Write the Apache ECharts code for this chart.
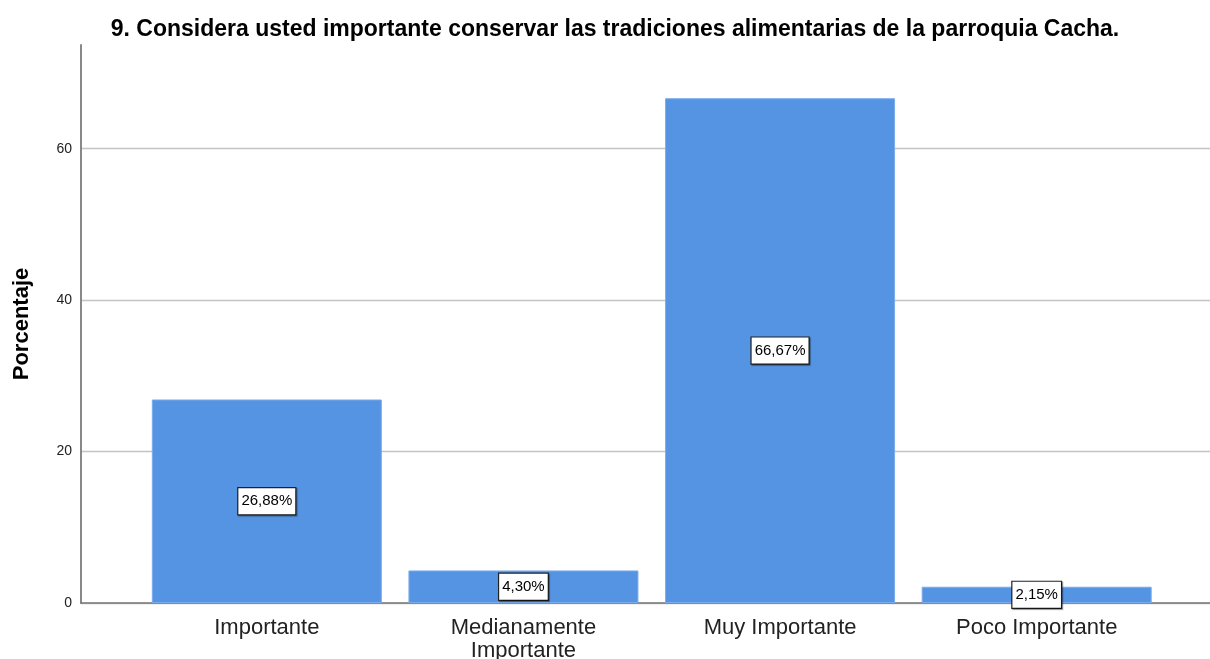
<!DOCTYPE html>
<html><head><meta charset="utf-8">
<script src="https://cdn.jsdelivr.net/npm/echarts@6/dist/echarts.min.js"></script>
<style>html,body{margin:0;padding:0;background:#fff}#c{width:1210px;height:659px}</style>
</head><body><div id="c"></div>
<script>
const categories = ['Importante', 'Medianamente\nImportante', 'Muy Importante', 'Poco Importante'];
const percentages = [26.88, 4.30, 66.67, 2.15];
const yTicks = [0, 20, 40, 60];
const titleText = '9. Considera usted importante conservar las tradiciones alimentarias de la parroquia Cacha.';
const yName = 'Porcentaje';

const FONT = '"Liberation Sans", Arial, sans-serif';
const YMAX = 73.7;
const GRID = '#c4c4c4';
const chart = echarts.init(document.getElementById('c'), null, {renderer: 'canvas'});
chart.setOption({
  animation: false,
  title: {
    text: titleText, left: 610, top: 13, textAlign: 'center',
    textStyle: {fontFamily: FONT, fontSize: 23, fontWeight: 'bold', color: '#000'}
  },
  grid: [
    {left: 81, right: 0, top: 45, bottom: 56, outerBoundsMode: 'none', containLabel: false},
    {left: 138.5, right: 45, top: 45, bottom: 56, outerBoundsMode: 'none', containLabel: false}
  ],
  xAxis: [
    {gridIndex: 0, type: 'value', min: 0, max: 1, show: true,
     axisLine: {show: true, lineStyle: {color: '#777', width: 1.5}},
     axisTick: {show: false}, axisLabel: {show: false}, splitLine: {show: false}},
    {gridIndex: 1, type: 'category', data: categories,
     axisLine: {show: false}, axisTick: {show: false},
     axisLabel: {fontFamily: FONT, fontSize: 22, color: '#222', margin: 13, lineHeight: 23, interval: 0}}
  ],
  yAxis: [
    {gridIndex: 0, type: 'value', min: 0, max: YMAX, interval: 20,
     name: yName, nameLocation: 'middle', nameGap: 48, nameRotate: 90,
     nameTextStyle: {fontFamily: FONT, fontSize: 22, fontWeight: 'bold', color: '#000'},
     axisLine: {show: true, lineStyle: {color: '#888', width: 2}},
     axisTick: {show: false},
     axisLabel: {fontFamily: FONT, fontSize: 14, color: '#222', margin: 9,
       formatter: v => yTicks.includes(v) ? String(v) : ''},
     splitLine: {show: true, lineStyle: {color: [GRID, GRID, GRID, GRID, 'rgba(0,0,0,0)'], width: 1.3}}},
    {gridIndex: 1, type: 'value', min: 0, max: YMAX, show: false}
  ],
  series: [{
    type: 'bar', xAxisIndex: 1, yAxisIndex: 1,
    data: percentages, barWidth: 230,
    itemStyle: {color: '#5594e3', borderColor: '#7aaced', borderWidth: 1},
    label: {
      show: true, position: 'inside',
      formatter: p => p.value.toFixed(2).replace('.', ',') + '%',
      fontFamily: FONT, fontSize: 15, color: '#000',
      backgroundColor: '#fff', borderColor: '#222', borderWidth: 1.2,
      padding: [6, 3, 5, 3],
      shadowColor: 'rgba(0,0,0,0.4)', shadowOffsetX: 1, shadowOffsetY: 1, shadowBlur: 1
    }
  }]
});
</script></body></html>
